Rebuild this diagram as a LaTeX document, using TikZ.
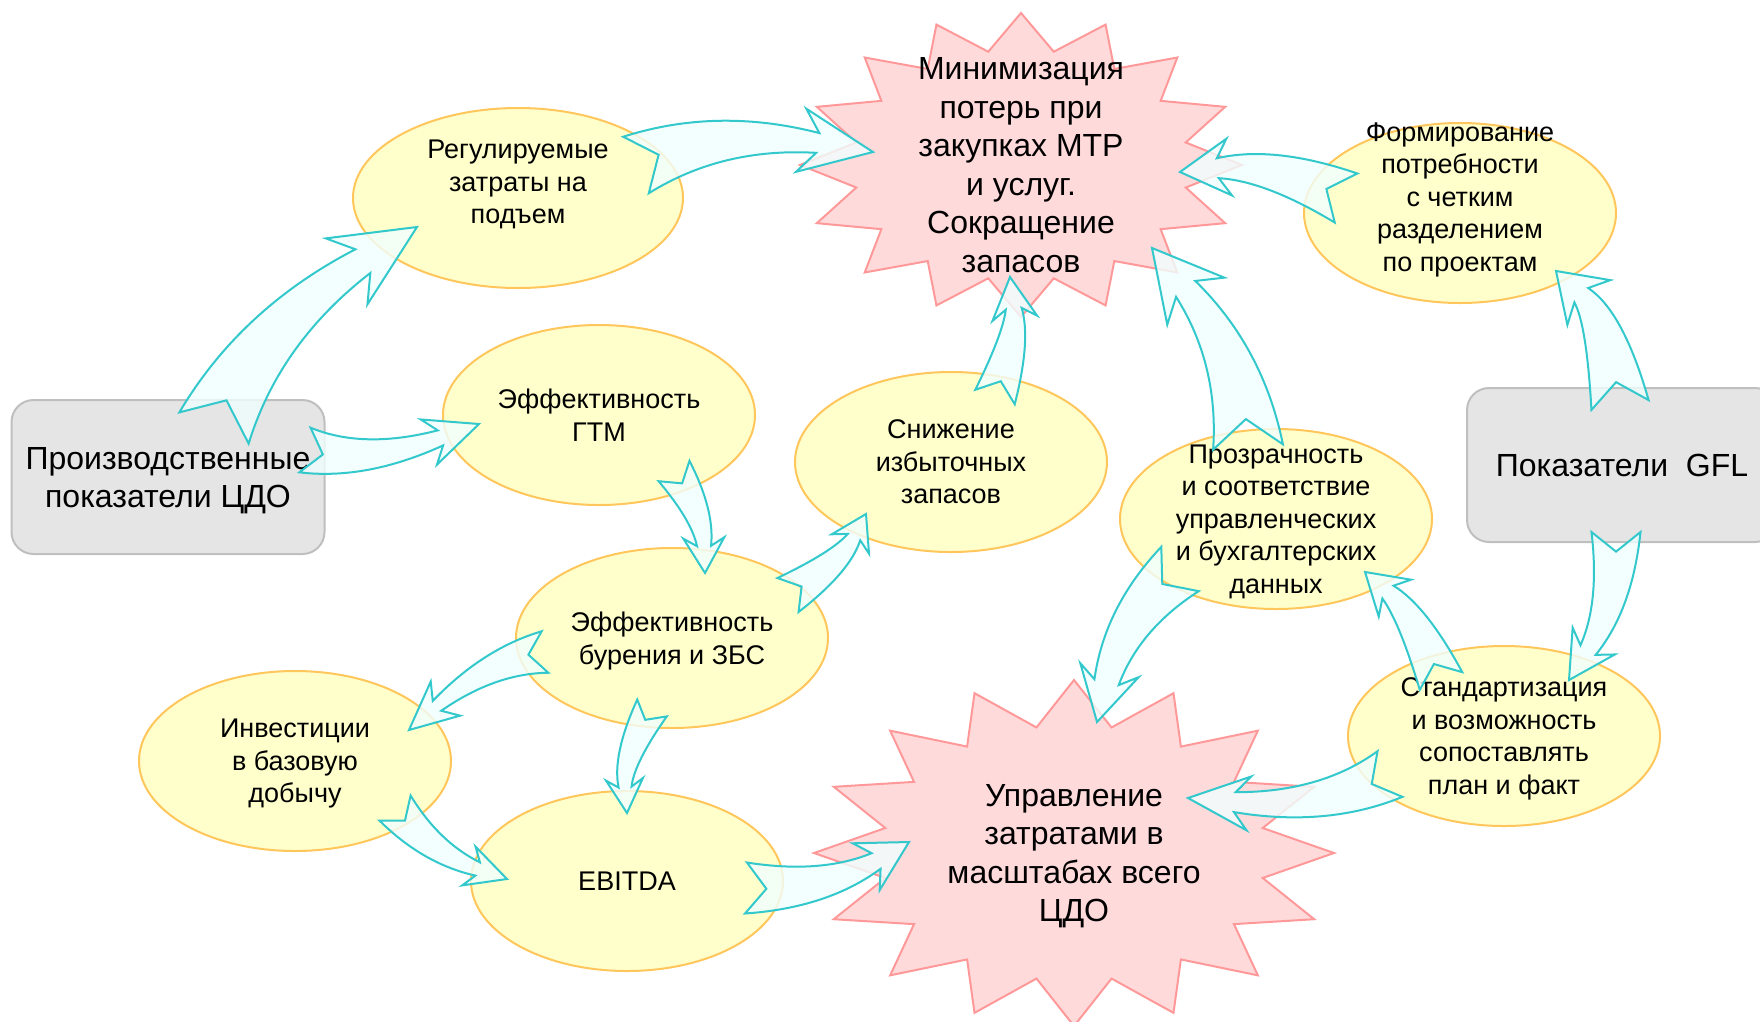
\documentclass[tikz,border=0pt]{standalone}
\usepackage{fontspec}
\setmainfont{Liberation Sans}
\definecolor{ellfill}{RGB}{255, 255, 204}
\definecolor{elldraw}{RGB}{255, 198, 92}
\definecolor{starfill}{RGB}{255, 218, 219}
\definecolor{stardraw}{RGB}{255, 153, 153}
\definecolor{boxfill}{RGB}{229, 229, 229}
\definecolor{boxdraw}{RGB}{191, 191, 191}
\definecolor{flowdraw}{RGB}{51, 200, 204}
\definecolor{flowfill}{RGB}{240, 255, 255}
\usetikzlibrary{shapes.geometric, calc}

% curved block arrow: tail, bend, tip, head length, tail/neck/head half widths
\newcommand{\blockarrow}[7]{%
  \path (#1) coordinate (ba-t) (#2) coordinate (ba-c) (#3) coordinate (ba-p);
  \path ($(ba-p)!#4pt!(ba-c)$) coordinate (ba-n)
        ($(ba-p)!{1.3*#4pt}!(ba-c)$) coordinate (ba-nb)
        ($(ba-c)+(ba-n)-(ba-t)$) coordinate (ba-cc);
  \path ($(ba-t)!#5pt!90:(ba-c)$) coordinate (ba-t1)
        ($(ba-t)!#5pt!-90:(ba-c)$) coordinate (ba-t2)
        ($(ba-t)!{0.8*#5pt}!(ba-c)$) coordinate (ba-tm)
        ($(ba-n)!#6pt!90:(ba-p)$) coordinate (ba-n1)
        ($(ba-n)!#6pt!-90:(ba-p)$) coordinate (ba-n2)
        ($(ba-nb)!#7pt!90:(ba-p)$) coordinate (ba-b1)
        ($(ba-nb)!#7pt!-90:(ba-p)$) coordinate (ba-b2)
        ($(ba-c)!{0.5*#5pt+0.5*#6pt}!90:(ba-cc)$) coordinate (ba-c1)
        ($(ba-c)!{0.5*#5pt+0.5*#6pt}!-90:(ba-cc)$) coordinate (ba-c2);
  \draw[flow] (ba-t1) .. controls ($(ba-t1)!0.667!(ba-c1)$) and ($(ba-n1)!0.667!(ba-c1)$) .. (ba-n1)
    -- (ba-b1) -- (ba-p) -- (ba-b2) -- (ba-n2)
    .. controls ($(ba-n2)!0.667!(ba-c2)$) and ($(ba-t2)!0.667!(ba-c2)$) .. (ba-t2)
    -- (ba-tm) -- cycle;
}

% 16-point star: center, x radius, y radius, inner ratio
\newcommand{\starburst}[4]{%
  \draw[starshape] ($(#1)+(90:#2 and #3)$)
    \foreach \k [evaluate=\k as \rr using {1-(1-#4)*mod(\k,2)}] in {1,...,31}{
      -- ($(#1)+({90+11.25*\k}:{#2*\rr} and {#3*\rr})$) }
    -- cycle;
}

\begin{document}
\begin{tikzpicture}[x=1pt, y=-1pt,
  ell/.style={ellipse, draw=elldraw, line width=2pt, fill=ellfill, minimum width=312pt,
    minimum height=180pt, inner sep=-40pt, align=center, font=\fontsize{27}{32.5}\selectfont,
    text depth=-7pt},
  infobox/.style={draw=boxdraw, line width=2pt, fill=boxfill, rounded corners=22pt,
    minimum width=313pt, minimum height=154pt, align=center, font=\fontsize{32}{38}\selectfont},
  startext/.style={align=center, font=\fontsize{32}{38.5}\selectfont, text depth=-9pt},
  starshape/.style={draw=stardraw, line width=2pt, fill=starfill},
  flow/.style={draw=flowdraw, line width=2pt, fill=flowfill, fill opacity=0.8}]
  \useasboundingbox (0, 0) rectangle (1760, 1021);
  \clip (0, 0) rectangle (1760, 1021);

  % Goals
  \starburst{1021,165}{221}{152}{0.76}
  \node[startext] (purchase) at (1021, 165) {Минимизация\\потерь при\\закупках МТР\\и услуг.\\Сокращение\\запасов};
  \starburst{1074,853}{260}{173}{0.74}
  \node[startext] (costs) at (1074, 853) {Управление\\затратами в\\масштабах всего\\ЦДО};

  % Sources
  \node[infobox, text depth=-9pt] (prod) at (168, 477) {Производственные\\показатели ЦДО};
  \node[infobox, minimum width=310pt] (gfl) at (1622, 465) {Показатели\ \ GFL};

  % Factors
  \node[ell, minimum width=330pt] (lift) at (518, 198) {Регулируемые\\затраты на\\подъем\\\mbox{}};
  \node[ell] (gtm) at (599, 415) {Эффективность\\ГТМ};
  \node[ell] (stock) at (951, 462) {Снижение\\избыточных\\запасов};
  \node[ell] (drill) at (672, 638) {Эффективность\\бурения и ЗБС};
  \node[ell] (invest) at (295, 761) {Инвестиции\\в базовую\\добычу};
  \node[ell, text depth=-2.5pt] (ebitda) at (627, 881) {EBITDA};
  \node[ell] (demand) at (1460, 213) {Формирование\\потребности\\с четким\\разделением\\по проектам\\\mbox{}};
  \node[ell] (transp) at (1276, 519) {Прозрачность\\и соответствие\\управленческих\\и бухгалтерских\\данных};
  \node[ell] (standard) at (1504, 736) {Стандартизация\\и возможность\\сопоставлять\\план и факт};

  % Arrows
  \blockarrow{[shift={(46,-49)}]prod.center}{260,326}{[shift={(-101,29)}]lift.center}{64}{38}{14}{39}
  \blockarrow{[shift={(137,-27)}]prod.center}{365,465}{[shift={(-120,9)}]gtm.center}{41}{23}{8}{24}
  \blockarrow{[shift={(118,-33)}]lift.center}{720,127}{[shift={(-148,-13)}]purchase.center}{56}{31}{10}{32}
  \blockarrow{[shift={(75,56)}]gtm.center}{703,515}{[shift={(33,-65)}]drill.center}{27}{18.5}{7}{20.5}
  \blockarrow{[shift={(116,-43)}]drill.center}{841,562}{[shift={(-85,52)}]stock.center}{26}{20}{7}{21}
  \blockarrow{[shift={(44,-65)}]stock.center}{1017,337}{[shift={(-11,112)}]purchase.center}{32}{21}{8}{22.5}
  \blockarrow{[shift={(-28,-72)}]transp.center}{1241,356}{[shift={(131,83)}]purchase.center}{53}{35}{12.5}{37}
  \blockarrow{[shift={(-114,-15)}]demand.center}{1270,163}{[shift={(159,7)}]purchase.center}{38}{27}{10}{28.5}
  \blockarrow{[shift={(-2,-60)}]gfl.center}{1605,318}{[shift={(96,58)}]demand.center}{35}{29}{10}{31}
  \blockarrow{[shift={(-6,67)}]gfl.center}{1616,606}{[shift={(65,-56)}]standard.center}{35.5}{24.5}{9}{25}
  \blockarrow{[shift={(-63,-55)}]standard.center}{1413,614}{[shift={(89,53)}]transp.center}{30.5}{23}{8.5}{24.5}
  \blockarrow{[shift={(-96,50)}]transp.center}{1122,618}{[shift={(23,-131)}]costs.center}{41}{29}{12.5}{30}
  \blockarrow{[shift={(-114,38)}]standard.center}{1324,810}{[shift={(114,-55)}]costs.center}{47}{26}{10}{27}
  \blockarrow{[shift={(-127,14)}]drill.center}{489,661}{[shift={(114,-31)}]invest.center}{37}{21}{6.5}{22.5}
  \blockarrow{[shift={(-20,70)}]drill.center}{623,759}{[shift={(0,-68)}]ebitda.center}{26}{17}{6.5}{18.5}
  \blockarrow{[shift={(100,47)}]invest.center}{431,853}{[shift={(-120,-2)}]ebitda.center}{31}{20}{7}{20.5}
  \blockarrow{[shift={(119,7)}]ebitda.center}{824,891}{[shift={(-165,-11)}]costs.center}{38}{25.5}{9}{27}
\end{tikzpicture}
\end{document}
